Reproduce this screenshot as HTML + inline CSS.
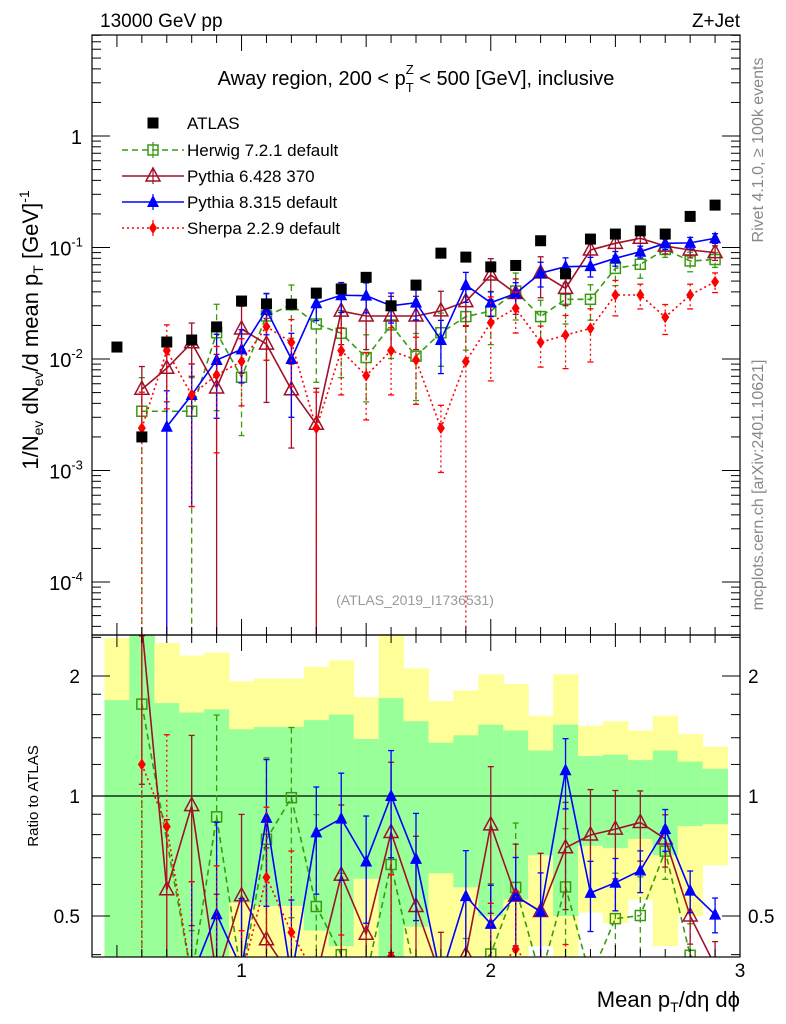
<!DOCTYPE html>
<html><head><meta charset="utf-8"><style>
html,body{margin:0;padding:0;background:#fff;width:786px;height:1024px;overflow:hidden;}
svg{display:block;font-family:"Liberation Sans",Arial,sans-serif;overflow:hidden;}
</style></head><body>
<svg id="c" width="786" height="1024" viewBox="0 0 786 1024" xmlns="http://www.w3.org/2000/svg">
<g id="bands"></g>
<g id="marks"></g>
<g id="axes"></g>
<text x="100" y="27" font-size="19">13000 GeV pp</text>
<text x="740" y="27" font-size="19" text-anchor="end">Z+Jet</text>
<text x="416" y="85" font-size="20" text-anchor="middle">Away region, 200 &lt; p<tspan font-size="13" dy="7">T</tspan><tspan font-size="13" dx="-8" dy="-18">Z</tspan><tspan dy="11"> &lt; 500 [GeV], inclusive</tspan></text>
<text x="415" y="605" font-size="14" fill="#999" text-anchor="middle">(ATLAS_2019_I1736531)</text>
<text transform="translate(763,150) rotate(-90)" font-size="16" fill="#888" text-anchor="middle">Rivet 4.1.0, ≥ 100k events</text>
<text transform="translate(763,485) rotate(-90)" font-size="16" fill="#888" text-anchor="middle">mcplots.cern.ch [arXiv:2401.10621]</text>
<text transform="translate(38,330) rotate(-90)" font-size="22" text-anchor="middle">1/N<tspan font-size="14" dy="5">ev</tspan><tspan dy="-5"> dN</tspan><tspan font-size="14" dy="5">ev</tspan><tspan dy="-5">/d mean p</tspan><tspan font-size="14" dy="5">T</tspan><tspan dy="-5"> [GeV]</tspan><tspan font-size="14" dy="-9">-1</tspan></text>
<text transform="translate(38,796) rotate(-90)" font-size="15" text-anchor="middle">Ratio to ATLAS</text>
<text x="740" y="1007" font-size="22" text-anchor="end">Mean p<tspan font-size="14" dy="5">T</tspan><tspan dy="-5">/dη dϕ</tspan></text>
<g id="legend"></g>
</svg>
<script>
const xVals=[0.5,0.6,0.7,0.8,0.9,1.0,1.1,1.2,1.3,1.4,1.5,1.6,1.7,1.8,1.9,2.0,2.1,2.2,2.3,2.4,2.5,2.6,2.7,2.8,2.9];
const atlas=[0.0128,0.0020,0.0142,0.0148,0.0194,0.0331,0.0312,0.031,0.039,0.0425,0.054,0.030,0.046,0.089,0.082,0.067,0.069,0.115,0.058,0.119,0.132,0.141,0.132,0.19,0.24];
const herwig=[null,0.0034,null,0.0034,0.0172,0.00686,0.0243,0.0307,0.0206,0.017,0.0103,0.0202,0.0106,0.0172,0.024,0.0269,0.0407,0.024,0.0343,0.0343,0.065,0.0707,0.096,0.0757,0.078];
const herwigErr=[0,1.0,0,1.0,0.8,0.7,0.6,0.5,0.7,0.6,0.6,0.5,0.6,0.5,0.5,0.5,0.45,0.4,0.4,0.35,0.3,0.25,0.15,0.2,0.15];
const py6=[null,0.00535,0.00826,0.0140,0.0055,0.0186,0.0136,0.0053,0.0026,0.0269,0.0243,0.0243,0.0243,0.027,0.0327,0.0567,0.0387,0.059,0.043,0.095,0.109,0.121,0.103,0.095,0.090];
const py6Err=[0,0.6,0.5,0.5,1.0,0.6,0.7,0.7,1.1,0.5,0.5,0.5,0.5,0.5,0.4,0.4,0.35,0.4,0.3,0.3,0.25,0.2,0.15,0.15,0.15];
const py8=[null,null,0.00247,0.00475,0.0098,0.0122,0.0275,0.0100,0.0316,0.0373,0.037,0.030,0.032,0.0148,0.046,0.032,0.0387,0.059,0.0673,0.068,0.080,0.0917,0.109,0.11,0.121];
const py8Err=[0,0,1.1,0.9,0.7,0.5,0.4,0.7,0.3,0.3,0.3,0.3,0.3,0.5,0.3,0.25,0.25,0.25,0.2,0.2,0.15,0.12,0.12,0.12,0.1];
const sherpa=[null,0.0024,0.0119,0.00475,0.0072,0.0095,0.0195,0.0141,0.0024,0.0119,0.0071,0.0119,0.0098,0.0024,0.0095,0.0212,0.0285,0.0141,0.0164,0.0188,0.0375,0.0375,0.0237,0.0375,0.0493];
const sherpaErr=[0,1.1,0.7,0.9,0.8,0.6,0.5,0.6,1.1,0.6,0.6,0.6,0.6,0.6,1.1,0.7,0.4,0.4,0.5,0.5,0.35,0.25,0.3,0.25,0.2];
const greenHi=[1.74,3,1.71,1.62,1.65,1.47,1.49,1.49,1.55,1.60,1.39,1.76,1.54,1.36,1.42,1.51,1.46,1.30,1.51,1.26,1.27,1.23,1.30,1.22,1.17];
const greenLo=[0.3,0.3,0.3,0.3,0.3,0.54,0.53,0.53,0.46,0.42,0.62,0.3,0.47,0.64,0.59,0.50,0.55,0.71,0.50,0.75,0.74,0.78,0.71,0.84,0.85];
const yellowHi=[2.49,3,2.42,2.25,2.29,1.94,1.97,1.97,2.11,2.19,1.77,3,2.09,1.73,1.84,2.02,1.91,1.59,2.02,1.50,1.54,1.46,1.59,1.43,1.33];
const yellowLo=[0.3,0.3,0.3,0.3,0.3,0.3,0.3,0.3,0.3,0.3,0.3,0.3,0.3,0.3,0.3,0.3,0.3,0.42,0.3,0.51,0.48,0.55,0.42,0.50,0.67];
const mainTickLabels=["1","10","10","10","10"];
const mainTickExps=["","-1","-2","-3","-4"];

const NS="http://www.w3.org/2000/svg";
const L=92,R=740,T=35,MB=635,RB=957;
const X0=0.4,X1=3.0;
const sx=v=>L+(v-X0)/(X1-X0)*(R-L);
const sy=v=>136-111.5*Math.log10(v);
const ry=v=>796-120*Math.log2(v);
function mk(tag,attrs,parent){const e=document.createElementNS(NS,tag);for(const k in attrs)e.setAttribute(k,attrs[k]);parent.appendChild(e);return e;}
const svg=document.getElementById('c');
const bands=document.getElementById('bands'),marks=document.getElementById('marks'),axes=document.getElementById('axes');
const clipM=mk('clipPath',{id:'cm'},svg);mk('rect',{x:L,y:T,width:R-L,height:MB-T},clipM);
const clipR=mk('clipPath',{id:'cr'},svg);mk('rect',{x:L,y:MB,width:R-L,height:RB-MB},clipR);
bands.setAttribute('clip-path','url(#cr)');
const clampR=y=>Math.max(MB,Math.min(RB,y));
xVals.forEach((x,i)=>{
  const x0=sx(x-0.05),x1=sx(x+0.05);
  const yt=clampR(ry(yellowHi[i])),yl=clampR(ry(yellowLo[i]));
  const yb=mk('rect',{x:x0,y:yt,width:x1-x0+0.5,height:yl-yt,fill:'#ffff99'},bands);
  
  
  const gt=clampR(ry(greenHi[i])),gl=clampR(ry(greenLo[i]));
  const gb=mk('rect',{x:x0,y:gt,width:x1-x0+0.5,height:gl-gt,fill:'#99ff99'},bands);
  
  
});
mk('line',{x1:L,x2:R,y1:ry(1),y2:ry(1),stroke:'#000','stroke-width':1.3},bands);
const gM=mk('g',{'clip-path':'url(#cm)'},marks);
const gR=mk('g',{'clip-path':'url(#cr)'},marks);
function marker(type,cx,cy,col,g){
  let e;
  if(type==='sq')e=mk('rect',{x:cx-5,y:cy-5,width:10,height:10,fill:'none',stroke:col,'stroke-width':1.5},g);
  else if(type==='otri')e=mk('polygon',{points:`${cx},${cy-8} ${cx-7},${cy+5} ${cx+7},${cy+5}`,fill:'none',stroke:col,'stroke-width':1.5},g);
  else if(type==='ftri')e=mk('polygon',{points:`${cx},${cy-7} ${cx-6},${cy+5} ${cx+6},${cy+5}`,fill:col},g);
  else if(type==='dia')e=mk('polygon',{points:`${cx},${cy-6} ${cx-4},${cy} ${cx},${cy+6} ${cx+4},${cy}`,fill:col},g);
  else e=mk('rect',{x:cx-5.5,y:cy-5.5,width:11,height:11,fill:col},g);
  
  
}
const series=[
 {name:'herwig',vals:herwig,err:herwigErr,col:'#3a9a10',dash:'6,4',m:'sq',lab:'Herwig 7.2.1 default'},
 {name:'pythia6',vals:py6,err:py6Err,col:'#a0102a',dash:'',m:'otri',lab:'Pythia 6.428 370'},
 {name:'pythia8',vals:py8,err:py8Err,col:'#0000ff',dash:'',m:'ftri',lab:'Pythia 8.315 default'},
 {name:'sherpa',vals:sherpa,err:sherpaErr,col:'#ff0000',dash:'2,3',m:'dia',lab:'Sherpa 2.2.9 default'}
];
series.forEach(s=>{
  [[gM,sy,T,MB],[gR,ry,MB,RB]].forEach(([g,fy,topY,bottomY],pi)=>{
    const pts=[];
    xVals.forEach((x,i)=>{
      let v=s.vals[i]; if(v==null)return;
      if(pi===1)v=v/atlas[i];
      const e=v*s.err[i];
      const cx=sx(x),cy=fy(v);
      const top=Math.max(topY-5,fy(v+e));
      const lowOk=v-e>0;
      const bot=lowOk?Math.min(fy(v-e),bottomY+5):bottomY+5;
      const eb=mk('line',{x1:cx,x2:cx,y1:top,y2:bot,stroke:s.col,'stroke-width':1.3,'stroke-dasharray':s.dash},g);
      
      
      mk('line',{x1:cx-3,x2:cx+3,y1:top,y2:top,stroke:s.col,'stroke-width':1.3},g);
      if(lowOk&&bot<bottomY)mk('line',{x1:cx-3,x2:cx+3,y1:bot,y2:bot,stroke:s.col,'stroke-width':1.3},g);
      pts.push([cx,Math.max(topY-20,Math.min(bottomY+20,cy))]);
    });
    const pl=mk('polyline',{points:pts.map(p=>p.join(',')).join(' '),fill:'none',stroke:s.col,'stroke-width':1.6,'stroke-dasharray':s.dash},g);
    
    
    pts.forEach(p=>marker(s.m,p[0],p[1],s.col,g));
  });
});
xVals.forEach((x,i)=>marker('atlas',sx(x),sy(atlas[i]),'#000',gM));
const lg=document.getElementById('legend');
marker('atlas',153,123,'#000',lg);
const at=mk('text',{x:187,y:129,'font-size':17},lg);at.textContent='ATLAS';


series.forEach((s,k)=>{
  const y=150+k*26;
  mk('line',{x1:122,x2:184,y1:y,y2:y,stroke:s.col,'stroke-width':1.6,'stroke-dasharray':s.dash},lg);
  mk('line',{x1:153,x2:153,y1:y-8,y2:y+8,stroke:s.col,'stroke-width':1.2},lg);
  marker(s.m,153,y,s.col,lg);
  const t=mk('text',{x:187,y:y+6,'font-size':17},lg);t.textContent=s.lab;
  
  
});
mk('rect',{x:L,y:T,width:R-L,height:MB-T,fill:'none',stroke:'#000','stroke-width':1.2},axes);
mk('rect',{x:L,y:MB,width:R-L,height:RB-MB,fill:'none',stroke:'#000','stroke-width':1.2},axes);
for(let k=4;k<=30;k++){
  const v=k/10,x=sx(v),len=(k%10===0)?16:(k%5===0?12:8);
  [[T,1],[MB,-1],[MB,1],[RB,-1]].forEach(([y0,d])=>mk('line',{x1:x,x2:x,y1:y0,y2:y0+d*len,stroke:'#000'},axes));
}
[1,2,3].forEach(v=>{const t=mk('text',{x:sx(v),y:977,'font-size':19,'text-anchor':'middle'},axes);t.textContent=String(v);
  
  });
for(let d=-5;d<=0;d++){for(let m=1;m<10;m++){const v=m*Math.pow(10,d),y=sy(v);if(y<T||y>MB)continue;const len=m===1?18:9;
  mk('line',{x1:L,x2:L+len,y1:y,y2:y,stroke:'#000'},axes);mk('line',{x1:R,x2:R-len,y1:y,y2:y,stroke:'#000'},axes);}}
mainTickLabels.forEach((lab,i)=>{const y=sy(Math.pow(10,-i));
  const t=mk('text',{x:i===0?82:66,y:y+8,'font-size':20,'text-anchor':i===0?'end':'middle'},axes);
  
  
  t.textContent=lab;
  if(mainTickExps[i]){const ts=mk('tspan',{'font-size':13,dy:-9},t);ts.textContent=mainTickExps[i];}
});
[0.4,0.5,0.6,0.7,0.8,0.9,1,1.2,1.4,1.6,1.8,2,2.5].forEach(v=>{const y=ry(v);if(y<MB||y>RB)return;const len=(v===0.5||v===1||v===2)?18:9;
  mk('line',{x1:L,x2:L+len,y1:y,y2:y,stroke:'#000'},axes);mk('line',{x1:R,x2:R-len,y1:y,y2:y,stroke:'#000'},axes);});
[[2,'2'],[1,'1'],[0.5,'0.5']].forEach(([v,s])=>{
  const a=mk('text',{x:80,y:ry(v)+7,'font-size':19,'text-anchor':'end'},axes);a.textContent=s;
  
  
  const b=mk('text',{x:748,y:ry(v)+7,'font-size':19},axes);b.textContent=s;
  
  
});
</script>
</body></html>
